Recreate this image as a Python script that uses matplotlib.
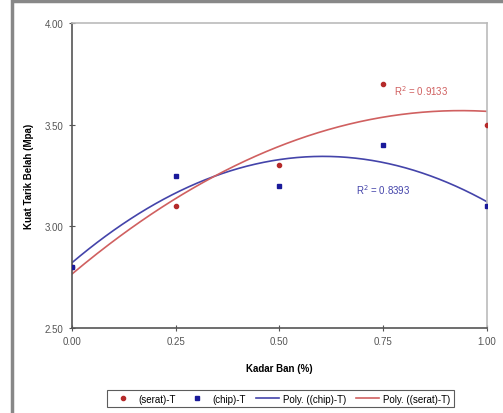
import matplotlib.pyplot as plt
import numpy as np

plt.rcParams['font.family'] = ['Liberation Sans', 'DejaVu Sans']

# data
kadar = [0.00, 0.25, 0.50, 0.75, 1.00]
serat = [2.80, 3.10, 3.30, 3.70, 3.50]
chip = [2.80, 3.25, 3.20, 3.40, 3.10]
xticks = [0.00, 0.25, 0.50, 0.75, 1.00]
yticks = [2.50, 3.00, 3.50, 4.00]

red = '#b52a2a'
blue = '#1a1a9a'
red_line = '#d06060'
blue_line = '#4444aa'

fig = plt.figure(figsize=(5.03, 4.14), dpi=100)
ax = fig.add_axes([0.143, 0.205, 0.825, 0.737])

# fitted 2nd order trend lines
xs = np.linspace(0, 1, 200)
p_serat = np.polyfit(kadar, serat, 2)
p_chip = np.polyfit(kadar, chip, 2)

l1, = ax.plot(kadar, serat, 'o', color=red, markersize=3, zorder=3)
l2, = ax.plot(kadar, chip, 's', color=blue, markersize=3.2, zorder=3)
l3, = ax.plot(xs, np.polyval(p_chip, xs), color=blue_line, lw=1.2)
l4, = ax.plot(xs, np.polyval(p_serat, xs), color=red_line, lw=1.2)

ax.text(0.775, 3.645, 'R$^2$ = 0.9133', color=red_line, fontsize=7)
ax.text(0.685, 3.16, 'R$^2$ = 0.8393', color=blue_line, fontsize=7)

ax.set_xlim(0, 1)
ax.set_ylim(2.5, 4.0)
ax.set_xticks(xticks)
ax.set_yticks(yticks)
ax.set_xticklabels(['%.2f' % v for v in xticks])
ax.set_yticklabels(['%.2f' % v for v in yticks])
ax.tick_params(labelsize=7, labelcolor='#555555', color='#555555',
               direction='inout', length=5, width=0.8)

for s in ['top', 'right']:
    ax.spines[s].set_color('#bbbbbb')
    ax.spines[s].set_linewidth(1.2)
for s in ['left', 'bottom']:
    ax.spines[s].set_color('#555555')
    ax.spines[s].set_linewidth(1.2)

ax.set_xlabel('Kadar Ban (%)', fontsize=7, fontweight='bold', labelpad=12)
ax.set_ylabel('Kuat Tarik Belah (Mpa)', fontsize=7, fontweight='bold', labelpad=8)

leg = fig.legend([l1, l2, l3, l4],
                 ['(serat)-T', '(chip)-T', 'Poly. ((chip)-T)', 'Poly. ((serat)-T)'],
                 loc='center', bbox_to_anchor=(0.558, 0.035), ncol=4,
                 fontsize=7, frameon=True, fancybox=False, handlelength=2.4,
                 columnspacing=1.0, handletextpad=0.4, borderpad=0.4)
leg.get_frame().set_edgecolor('#333333')
leg.get_frame().set_linewidth(0.8)

# outer border of the chart area
fig.patches.append(plt.Rectangle((0.024, -0.05), 0.99, 1.045, transform=fig.transFigure,
                                 fill=False, edgecolor='#888888', lw=2.5))

fig.savefig('out.png', dpi=100)
